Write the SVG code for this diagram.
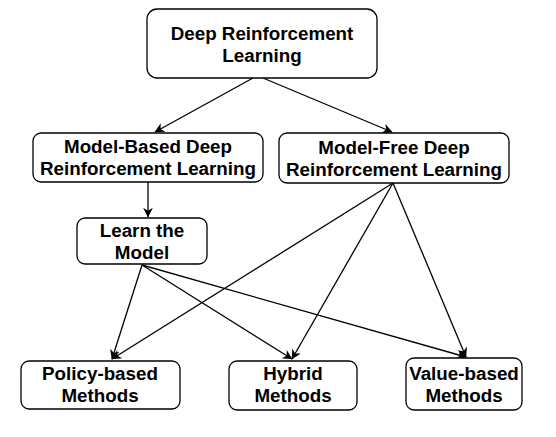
<svg xmlns="http://www.w3.org/2000/svg" width="556" height="437" viewBox="0 0 556 437">
<style>
.box{fill:#fff;stroke:#000;stroke-width:1.3}
.t{font-family:"Liberation Sans",Arial,sans-serif;font-weight:bold;font-size:18.8px;text-anchor:middle;fill:#000}
.c{stroke:#000;stroke-width:1.3;fill:none;marker-end:url(#ah)}
</style>
<defs>
<marker id="ah" viewBox="0 0 10 10" refX="9" refY="5" markerWidth="7" markerHeight="7" markerUnits="userSpaceOnUse" orient="auto-start-reverse" overflow="visible">
<path d="M0,0 L10,5 L0,10 L3,5 Z" fill="#000" transform="scale(1.4) translate(-3,-1.4)"/>
</marker>
</defs>
<rect width="556" height="437" fill="#fff"/>
<g id="connectors">
<line class="c" x1="253" y1="78" x2="155" y2="132"/>
<line class="c" x1="263" y1="78" x2="392" y2="132"/>
<line class="c" x1="148" y1="182" x2="148" y2="217"/>
<line class="c" x1="142" y1="265" x2="112" y2="359"/>
<line class="c" x1="142" y1="265" x2="292" y2="359"/>
<line class="c" x1="142" y1="265" x2="466" y2="357"/>
<line class="c" x1="393" y1="183" x2="112" y2="359"/>
<line class="c" x1="393" y1="183" x2="292" y2="359"/>
<line class="c" x1="393" y1="183" x2="466" y2="357"/>
</g>
<g id="drl">
<rect class="box" x="147" y="9" width="230" height="69" rx="10"/>
<text class="t" x="262" y="40">Deep Reinforcement</text>
<text class="t" x="262" y="62">Learning</text>
</g>
<g id="model-based">
<rect class="box" x="33" y="133" width="230" height="49" rx="8"/>
<text class="t" x="148" y="153">Model-Based Deep</text>
<text class="t" x="148" y="175">Reinforcement Learning</text>
</g>
<g id="model-free">
<rect class="box" x="279" y="133" width="230" height="50" rx="8"/>
<text class="t" x="394" y="154">Model-Free Deep</text>
<text class="t" x="394" y="176">Reinforcement Learning</text>
</g>
<g id="learn">
<rect class="box" x="77" y="218" width="130" height="46" rx="8"/>
<text class="t" x="142" y="237">Learn the</text>
<text class="t" x="142" y="259">Model</text>
</g>
<g id="policy">
<rect class="box" x="21" y="361" width="159" height="48" rx="8"/>
<text class="t" x="100" y="380">Policy-based</text>
<text class="t" x="100" y="402">Methods</text>
</g>
<g id="hybrid">
<rect class="box" x="229" y="361" width="128" height="49" rx="8"/>
<text class="t" x="293" y="380">Hybrid</text>
<text class="t" x="293" y="402">Methods</text>
</g>
<g id="value">
<rect class="box" x="406" y="358" width="116" height="52" rx="8"/>
<text class="t" x="464" y="380">Value-based</text>
<text class="t" x="464" y="402">Methods</text>
</g>
</svg>
